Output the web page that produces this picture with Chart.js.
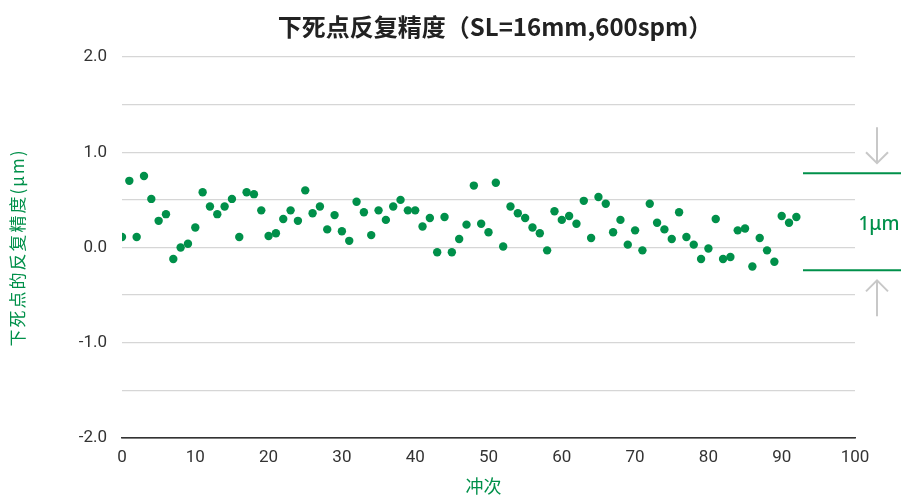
<!DOCTYPE html>
<html>
<head>
<meta charset="utf-8">
<script src="https://cdn.jsdelivr.net/npm/chart.js@4/dist/chart.umd.min.js"></script>
<style>
  html, body { margin: 0; padding: 0; background: #fff; }
  #wrap { width: 903px; height: 496px; }
</style>
</head>
<body>
<div id="wrap"><canvas id="c"></canvas></div>
<script>
// stroke number (冲次) and measured BDC position (μm)
const strokes = [
  0, 1, 2, 3, 4, 5, 6, 7, 8, 9,
  10, 11, 12, 13, 14, 15, 16, 17, 18, 19,
  20, 21, 22, 23, 24, 25, 26, 27, 28, 29,
  30, 31, 32, 33, 34, 35, 36, 37, 38, 39,
  40, 41, 42, 43, 44, 45, 46, 47, 48, 49,
  50, 51, 52, 53, 54, 55, 56, 57, 58, 59,
  60, 61, 62, 63, 64, 65, 66, 67, 68, 69,
  70, 71, 72, 73, 74, 75, 76, 77, 78, 79,
  80, 81, 82, 83, 84, 85, 86, 87, 88, 89,
  90, 91, 92,
];
const bdcValues = [
  0.11, 0.70, 0.11, 0.75, 0.51, 0.28, 0.35, -0.12, 0.00, 0.04,
  0.21, 0.58, 0.43, 0.35, 0.43, 0.51, 0.11, 0.58, 0.56, 0.39,
  0.12, 0.15, 0.30, 0.39, 0.28, 0.60, 0.36, 0.43, 0.19, 0.34,
  0.17, 0.07, 0.48, 0.37, 0.13, 0.39, 0.29, 0.43, 0.50, 0.39,
  0.39, 0.22, 0.31, -0.05, 0.32, -0.05, 0.09, 0.24, 0.65, 0.25,
  0.16, 0.68, 0.01, 0.43, 0.36, 0.31, 0.21, 0.15, -0.03, 0.38,
  0.29, 0.33, 0.25, 0.49, 0.10, 0.53, 0.46, 0.16, 0.29, 0.03,
  0.18, -0.03, 0.46, 0.26, 0.19, 0.09, 0.37, 0.11, 0.03, -0.12,
  -0.01, 0.30, -0.12, -0.10, 0.18, 0.20, -0.20, 0.10, -0.03, -0.15,
  0.33, 0.26, 0.32,
];
// band marking the 1μm spread on the right
const bandTop = 0.78;
const bandBottom = -0.24;
const bandLabel = '1μm';

const TITLE = '下死点反复精度（SL=16mm,600spm）';
const Y_TITLE = '下死点的反复精度(μm)';
const X_TITLE = '冲次';

const GREEN = '#00904a';
const INK = '#333333';
const GRID = '#d6d6d6';
const ARROW = '#c8c8c8';

const CJK = '"Noto Sans CJK SC", "Noto Sans", sans-serif';
const NUM = 'Roboto, "Noto Sans", sans-serif';

/* titles drawn by hand so they sit where the original puts them */
const titlesPlugin = {
  id: 'titles',
  afterDraw(chart) {
    const { ctx, chartArea } = chart;
    ctx.save();
    ctx.textAlign = 'center';
    ctx.textBaseline = 'middle';

    ctx.fillStyle = '#222';
    ctx.font = `bold 24px ${CJK}`;
    ctx.fillText(TITLE, 495, 27);

    ctx.fillStyle = GREEN;
    ctx.font = `18px ${CJK}`;
    ctx.fillText(X_TITLE, (chartArea.left + chartArea.right) / 2 - 5, 486);

    ctx.translate(18, (chartArea.top + chartArea.bottom) / 2);
    ctx.rotate(-Math.PI / 2);
    ctx.font = `17px ${CJK}`;
    ctx.letterSpacing = '2px';
    ctx.fillText(Y_TITLE, 0, 0);
    ctx.restore();
  },
};

/* band lines + arrows + label to the right of the plot */
const bandPlugin = {
  id: 'band',
  afterDraw(chart) {
    const { ctx, chartArea, scales } = chart;
    const yTop = scales.y.getPixelForValue(bandTop);
    const yBot = scales.y.getPixelForValue(bandBottom);
    const x0 = chartArea.right - 52;
    const x1 = chartArea.right + 46;
    const ax = chartArea.right + 22;
    ctx.save();
    ctx.strokeStyle = GREEN;
    ctx.lineWidth = 2;
    [yTop, yBot].forEach((y) => {
      ctx.beginPath();
      ctx.moveTo(x0, y);
      ctx.lineTo(x1, y);
      ctx.stroke();
    });
    // arrows pointing at the lines
    ctx.strokeStyle = ARROW;
    ctx.lineWidth = 2;
    const arrow = (from, to) => {
      const dir = Math.sign(to - from);
      ctx.beginPath();
      ctx.moveTo(ax, from);
      ctx.lineTo(ax, to);
      ctx.moveTo(ax - 11, to - dir * 11);
      ctx.lineTo(ax, to);
      ctx.lineTo(ax + 11, to - dir * 11);
      ctx.stroke();
    };
    arrow(yTop - 46, yTop - 10);
    arrow(yBot + 46, yBot + 10);
    ctx.fillStyle = GREEN;
    ctx.font = '500 19px "Noto Sans", sans-serif';
    ctx.textAlign = 'center';
    ctx.textBaseline = 'middle';
    ctx.fillText(bandLabel, ax + 2, (yTop + yBot) / 2 + 3);
    ctx.restore();
  },
};

new Chart(document.getElementById('c'), {
  type: 'scatter',
  data: {
    datasets: [{
      data: strokes.map((x, i) => ({ x, y: bdcValues[i] })),
      backgroundColor: GREEN,
      borderColor: GREEN,
      borderWidth: 0,
      pointRadius: 4.2,
      pointHoverRadius: 4.2,
    }],
  },
  options: {
    responsive: true,
    maintainAspectRatio: false,
    animation: false,
    layout: { padding: { left: 0, right: 48, top: 57, bottom: 0 } },
    plugins: {
      legend: { display: false },
      tooltip: { enabled: false },
      title: { display: false },
    },
    scales: {
      x: {
        type: 'linear',
        min: 0,
        max: 100,
        grid: { display: false, drawTicks: false },
        border: { display: true, color: INK, width: 1.5 },
        ticks: { stepSize: 10, color: INK, padding: 10, font: { family: NUM, size: 17 } },
        afterFit(scale) { scale.height = 58; },
      },
      y: {
        min: -2,
        max: 2,
        grid: {
          drawTicks: false,
          color: (c) => (c.tick && c.tick.value === -2 ? INK : GRID),
          lineWidth: 1.3,
        },
        border: { display: false },
        ticks: {
          stepSize: 0.5,
          color: INK,
          padding: 15,
          font: { family: NUM, size: 17 },
          callback: (v) => (Number.isInteger(v) ? v.toFixed(1) : ''),
        },
        afterFit(scale) { scale.width = 122; },
      },
    },
  },
  plugins: [bandPlugin, titlesPlugin],
});
</script>
</body>
</html>
